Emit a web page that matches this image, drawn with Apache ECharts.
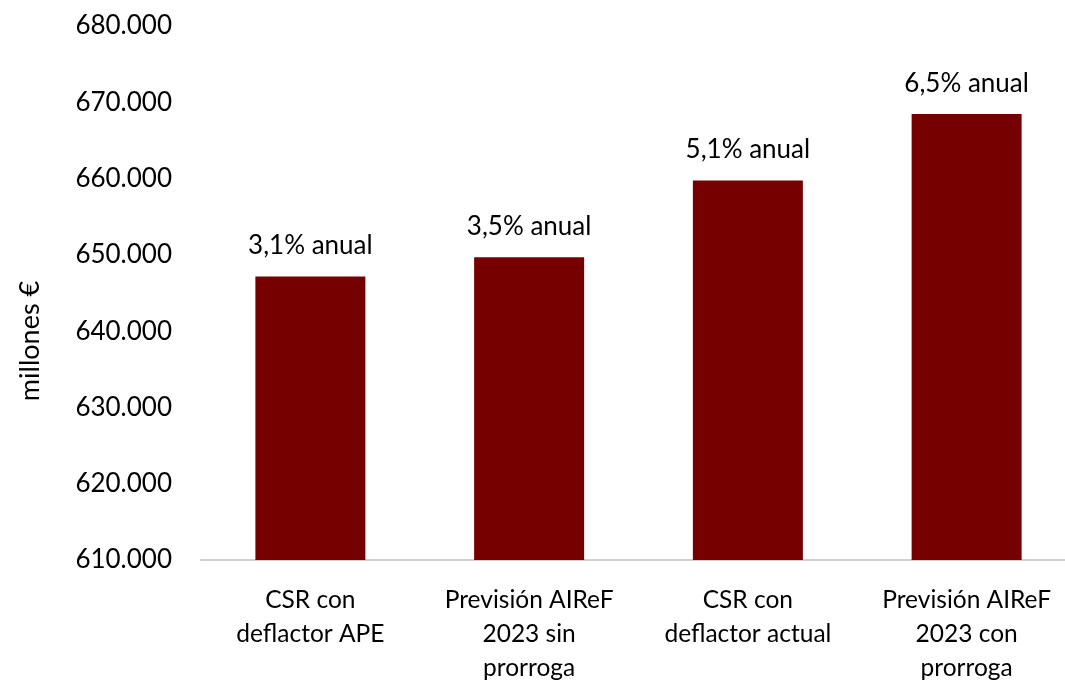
<!DOCTYPE html>
<html><head><meta charset="utf-8">
<script src="https://cdn.jsdelivr.net/npm/echarts@6/dist/echarts.min.js"></script>
<style>html,body{margin:0;padding:0;background:#fff}#c{width:1065px;height:680px}</style>
</head><body><div id="c"></div>
<script>
const categories = ['CSR con\ndeflactor APE', 'Previsión AIReF\n2023 sin\nprorroga', 'CSR con\ndeflactor actual', 'Previsión AIReF\n2023 con\nprorroga'];
const values = [647150, 649700, 659750, 668450];
const growthLabels = ['3,1% anual', '3,5% anual', '5,1% anual', '6,5% anual'];
const yMin = 610000, yMax = 680000, yStep = 10000;
const font = 'Lato';
const chart = echarts.init(document.getElementById('c'));
chart.setOption({
  animation: false,
  grid: { left: 201, top: 26, width: 875, bottom: 120, outerBoundsMode: 'none', containLabel: false },
  xAxis: {
    type: 'category', data: categories,
    axisLine: { lineStyle: { color: '#d0d0d0', width: 2 } },
    axisTick: { show: false },
    axisLabel: { color: '#000', fontFamily: font, fontSize: 24.5, lineHeight: 34, margin: 23, interval: 0 }
  },
  yAxis: {
    type: 'value', min: yMin, max: yMax, interval: yStep,
    name: 'millones €', nameLocation: 'middle', nameGap: 157, nameRotate: 90,
    nameTextStyle: { color: '#000', fontFamily: font, fontSize: 27, padding: [0, 96, 0, 0] },
    axisLine: { show: false }, axisTick: { show: false }, splitLine: { show: false },
    axisLabel: { color: '#000', fontFamily: font, fontSize: 26, margin: 29,
      formatter: v => String(v).replace(/\B(?=(\d{3})+(?!\d))/g, '.') }
  },
  series: [{
    type: 'bar', data: values, barWidth: 110,
    itemStyle: { color: '#760000' },
    label: { show: true, position: 'top', distance: 18, color: '#000', fontFamily: font, fontSize: 26,
      formatter: p => growthLabels[p.dataIndex] }
  }]
});
</script></body></html>
